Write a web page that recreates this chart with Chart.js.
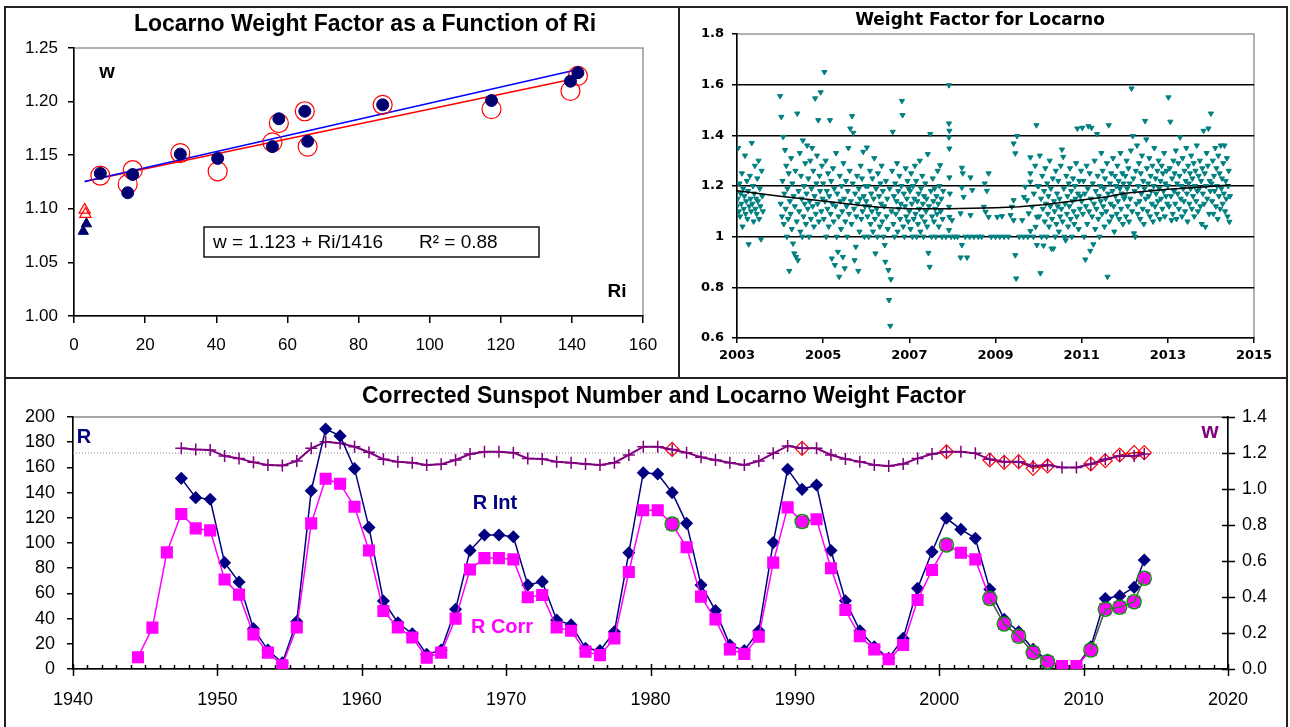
<!DOCTYPE html>
<html>
<head>
<meta charset="utf-8">
<script src="https://cdn.jsdelivr.net/npm/chart.js"></script>
<style>
  html, body { margin: 0; padding: 0; background: #fff; overflow: hidden; }
  body { width: 1290px; height: 727px; position: relative; }
  .frame { position: absolute; left: 4px; top: 6px; width: 1280px; height: 740px; border: 2px solid #222; }
  .vline { position: absolute; left: 678px; top: 7px; width: 2px; height: 371px; background: #222; }
  .hline { position: absolute; left: 5px; top: 377px; width: 1282px; height: 2px; background: #222; }
  canvas { position: absolute; }
</style>
</head>
<body>
<div class="frame"></div>
<div class="vline"></div>
<div class="hline"></div>
<canvas id="riChart" width="671" height="368" style="left:7px;top:9px;width:671px;height:368px"></canvas>
<canvas id="dailyChart" width="605" height="368" style="left:681px;top:9px;width:605px;height:368px"></canvas>
<canvas id="sunChart" width="1279" height="347" style="left:7px;top:380px;width:1279px;height:347px"></canvas>
<script>
// ---- panel 1: weight factor vs Ri ----
const riVals = [7.4, 15.1, 16.5, 29.9, 40.4, 55.8, 57.6, 64.9, 65.7, 86.8, 117.4, 139.6, 141.7];
const wIntVals = [1.133, 1.115, 1.132, 1.151, 1.147, 1.158, 1.184, 1.191, 1.163, 1.197, 1.201, 1.219, 1.227];
const wCorrVals = [1.131, 1.123, 1.136, 1.152, 1.135, 1.162, 1.180, 1.191, 1.158, 1.197, 1.193, 1.210, 1.224];
const lowRiInt = [2.6, 3.5];
const lowWInt = [1.079, 1.086];
const lowRiCorr = [3.0, 3.2];
const lowWCorr = [1.099, 1.095];
const fitRi = [3.0, 141.7];
const fitBlue = [1.1255, 1.230];
const fitRed = [1.1255, 1.222];

// ---- panel 2: daily weight factor (samples per year, 70 per year) ----
const wfPerYear = 70;
const wf2003 = [1.12,1.15,1.35,1.10,1.21,1.08,1.17,1.13,1.25,1.04,1.19,1.11,1.16,1.32,1.09,1.14,1.22,1.07,1.18,0.97,
  1.12,1.24,1.15,1.10,1.37,1.13,1.20,1.06,1.17,1.28,1.11,1.15,1.09,1.23,1.14,1.30,1.07,1.19,1.12,0.99,1.26,1.16,1.10];
const wf2004 = [1.555,1.13,1.473,1.08,1.22,1.394,1.05,1.17,1.342,1.11,1.28,1.00,1.19,1.07,1.25,0.865,1.14,1.09,1.31,1.03,
  1.21,0.973,1.16,0.934,1.12,1.26,0.92,1.06,1.486,0.907,1.18,1.10,1.33,1.02,1.24,1.15,1.00,1.38,1.08,1.20,
  1.13,1.29,1.05,1.17,1.36,1.11,1.23,1.00,1.14,1.30,1.07,1.19,1.35,1.12,1.26,1.04,1.16,1.546,1.09,1.21,
  1.32,1.13,1.46,1.06,1.24,1.18,1.57,1.10,1.28,1.15];
const wf2005 = [1.21,1.07,1.65,1.14,1.30,1.00,1.18,1.11,1.25,1.04,1.16,1.46,1.09,1.22,0.914,1.13,1.27,1.06,1.19,0.888,
  1.12,1.33,1.00,1.17,0.94,1.08,0.842,1.24,1.14,1.03,1.20,1.10,0.92,1.29,1.15,0.875,1.06,1.22,1.12,1.00,
  1.18,1.35,1.09,1.26,1.427,1.14,1.05,1.476,1.21,1.41,1.11,0.907,1.17,0.96,1.08,1.24,1.13,0.865,1.19,1.02,
  1.15,1.28,1.07,1.23,1.10,1.335,1.16,1.00,1.12,1.20];
const wf2006 = [1.14,1.352,1.08,1.20,1.00,1.12,1.26,1.05,1.17,1.10,1.23,1.02,1.15,1.31,1.07,0.934,1.19,1.11,1.00,1.25,
  1.09,1.16,1.04,1.21,1.13,1.28,1.06,1.18,1.00,1.12,0.967,0.901,1.22,1.08,1.15,1.03,0.868,0.75,1.19,0.648,
  0.832,1.10,1.26,1.414,1.05,1.16,1.00,1.21,1.09,1.14,1.29,1.02,1.18,1.11,1.24,1.07,1.13,1.20,1.536,1.48,
  1.04,1.17,1.00,1.12,1.27,1.08,1.15,1.22,1.06,1.19];
const wf2007 = [1.10,1.18,1.03,1.25,1.13,1.00,1.20,1.07,1.15,1.28,1.09,1.22,1.00,1.14,1.05,1.17,1.11,1.30,1.02,1.19,
  1.08,1.24,1.13,1.00,1.16,1.06,1.21,1.10,1.15,1.04,1.326,0.936,1.12,0.881,1.405,1.18,1.00,1.08,1.23,1.14,
  1.06,1.19,1.11,1.00,1.16,1.09,1.26,1.13,1.04,1.20,1.282,1.10,1.15,1.00,1.07,1.18];
const wf2010 = [1.20,1.08,1.32,0.856,1.15,1.00,1.24,1.11,0.965,1.18,1.06,1.27,1.13,1.00,1.21,1.09,1.16,1.04,1.30,1.12,
  1.19,0.953,1.07,1.23,0.953,1.14,1.10,1.00,1.26,1.05,1.17,1.12,1.22,1.02,1.15,1.08,1.28,1.11,1.344,1.06,
  1.315,1.19,1.00,1.13,0.986,1.24,1.09,1.16,1.04,1.21,1.12,1.27,1.07,1.18,1.00,1.14,1.23,1.10,1.05,1.20,
  1.15,1.29,1.08,1.427,1.17,1.03,1.22,1.11,1.16,1.26];
const wf2011 = [1.14,1.43,1.09,1.22,1.00,1.17,0.91,1.12,1.28,1.05,1.19,1.436,1.10,1.25,0.944,1.15,1.43,1.08,1.21,0.97,
  1.13,1.30,1.03,1.18,1.11,1.405,1.24,1.07,1.16,1.00,1.20,1.14,1.33,1.09,1.26,1.12,1.19,1.04,1.23,1.15,
  1.10,1.29,0.842,1.17,1.44,1.06,1.21,1.13,1.25,1.08,1.18,1.31,1.12,1.02,1.24,1.16,1.20,1.09,1.28,1.14,
  1.22,1.07,1.19,1.33,1.11,1.17,1.25,1.05,1.21,1.15];
const wf2012 = [1.16,1.24,1.08,1.30,1.19,1.12,1.27,1.06,1.21,1.15,1.34,1.585,1.10,1.397,1.23,1.013,1.18,1.00,1.26,1.13,
  1.36,1.09,1.20,1.29,1.14,1.07,1.25,1.17,1.32,1.11,1.22,1.05,1.19,1.457,1.15,1.384,1.27,1.10,1.21,1.16,
  1.31,1.08,1.24,1.18,1.13,1.28,1.06,1.20,1.35,1.12,1.23,1.17,1.09,1.26,1.14,1.30,1.19,1.07,1.22,1.15,
  1.28,1.11,1.25,1.18,1.33,1.08,1.21,1.16,1.26,1.13];
const wf2013 = [1.20,1.55,1.12,1.27,1.454,1.16,1.065,1.23,1.09,1.30,1.18,1.25,1.13,1.34,1.07,1.21,1.17,1.29,1.11,1.24,
  1.392,1.15,1.20,1.08,1.31,1.19,1.14,1.26,1.10,1.22,1.35,1.17,1.06,1.28,1.21,1.13,1.25,1.19,1.32,1.11,
  1.23,1.16,1.29,1.08,1.20,1.26,1.14,1.36,1.18,1.10,1.24,1.19,1.30,1.12,1.22,1.05,1.27,1.17,1.418,1.13,
  1.25,1.039,1.20,1.33,1.15,1.28,1.427,1.09,1.22,1.18];
const wf2014 = [1.486,1.21,1.14,1.30,1.09,1.24,1.18,1.35,1.12,1.27,1.20,1.07,1.32,1.16,1.25,1.11,1.36,1.19,1.23,1.13,
  1.29,1.17,1.36,1.10,1.22,1.15,1.31,1.08,1.20,1.26,1.059,1.16];
const wfYears = [2003, 2004, 2005, 2006, 2007, 2010, 2011, 2012, 2013, 2014];
const wfByYear = [wf2003, wf2004, wf2005, wf2006, wf2007, wf2010, wf2011, wf2012, wf2013, wf2014];
// sparse observations 2007.8 - 2010
const wfSparse = [[2007.92,1.598],[2007.92,1.447],[2007.93,1.418],[2007.92,1.392],[2007.93,1.348],[2007.93,1.234],
  [2007.94,1.170],[2007.92,1.118],[2007.93,1.078],[2007.99,1.065],[2007.92,1.026],[2008.22,1.272],[2008.24,1.250],
  [2008.22,1.194],[2008.26,1.157],[2008.19,1.092],[2008.22,0.967],[2008.19,0.918],[2008.34,0.918],[2008.42,1.234],
  [2008.46,1.184],[2008.42,1.085],[2008.75,1.210],[2008.84,1.250],[2008.80,1.181],[2008.73,1.118],[2008.84,1.078],
  [2008.77,1.098],[2009.04,1.078],[2009.15,1.081],[2009.35,1.085],[2009.42,1.065],[2009.42,1.368],[2009.50,1.397],
  [2009.46,1.329],[2009.48,0.835],[2009.46,0.927],[2009.42,1.144],[2009.38,1.118],[2009.81,1.313],[2009.95,1.440],
  [2009.81,1.250],[2009.81,1.217],[2009.69,1.197],[2009.73,1.144],[2009.77,1.092],[2009.85,1.118],[2009.89,1.170],
  [2009.96,1.078],[2009.96,0.967],[2009.81,1.022],[2009.93,1.039],[2009.62,1.065],[2009.66,1.157],[2009.92,1.280],
  [2009.98,1.200],[2007.85,1],[2007.97,1],[2008.05,1],[2008.12,1],[2008.30,1],[2008.40,1],[2008.50,1],[2008.60,1],
  [2008.68,1],[2008.90,1],[2009.00,1],[2009.10,1],[2009.20,1],[2009.30,1],[2009.55,1],[2009.65,1],[2009.75,1],[2009.88,1]];
const trendYear = [2003.0, 2004.0, 2005.0, 2005.8, 2006.3, 2007.0, 2007.9, 2009.0, 2009.55, 2010.1, 2011.0, 2011.6, 2012.0, 2013.0, 2013.9, 2014.45];
const trendW = [1.181, 1.160, 1.141, 1.125, 1.116, 1.110, 1.110, 1.114, 1.118, 1.126, 1.145, 1.158, 1.171, 1.187, 1.197, 1.204];

// ---- panel 3: sunspot numbers and weight factor ----
const sunYears = [1944.5,1945.5,1946.5,1947.5,1948.5,1949.5,1950.5,1951.5,1952.5,1953.5,1954.5,1955.5,1956.5,1957.5,
  1958.5,1959.5,1960.5,1961.5,1962.5,1963.5,1964.5,1965.5,1966.5,1967.5,1968.5,1969.5,1970.5,1971.5,1972.5,1973.5,
  1974.5,1975.5,1976.5,1977.5,1978.5,1979.5,1980.5,1981.5,1982.5,1983.5,1984.5,1985.5,1986.5,1987.5,1988.5,1989.5,
  1990.5,1991.5,1992.5,1993.5,1994.5,1995.5,1996.5,1997.5,1998.5,1999.5,2000.5,2001.5,2002.5,2003.5,2004.5,2005.5,
  2006.5,2007.5,2008.5,2009.5,2010.5,2011.5,2012.5,2013.5,2014.2];
const rCorr = [9.3,32.8,92.6,123,111.6,110,71,59,27.5,13,3,33,115.6,151,147,128.8,94,46,33,25,9,13,40,79,88,88,
  87,57,58.7,33,30.4,13.8,11,24.3,77,126,126,115,96.6,57.4,39.4,15.6,12,25.7,84.4,128.3,117,118.8,80,46.8,26,15.6,
  7.7,19,54.8,78.6,98.4,92.3,87,56,35.7,26,13,5.8,2.4,2.4,15,47.4,49,53.4,72];
const rInt = [null,null,null,151.3,136,134.7,84.4,69,32,15,5,37.6,141.5,190.5,185,159,112.4,54,36.7,28,11.6,15,47.4,
  94,106.3,106.3,105,66.7,69.3,38.9,35,16.4,14.6,29.6,92.3,155.8,154.8,140,115.6,66.7,46.3,19,14.6,30.4,100.3,158.5,
  142.6,146,94,54.2,30.4,17.7,8.5,24.3,64,93,119.6,110.8,103.7,63.2,39.4,29.6,15.6,7.1,2,2,17.7,56,58,64.8,86.5];
const wFactor = [null,null,null,1.226,1.220,1.217,1.183,1.170,1.148,1.133,1.130,1.155,1.226,1.263,1.254,1.235,1.204,
  1.165,1.152,1.146,1.133,1.138,1.161,1.194,1.207,1.207,1.202,1.170,1.167,1.152,1.146,1.139,1.133,1.146,1.189,1.235,
  1.235,1.220,1.202,1.176,1.161,1.146,1.133,1.155,1.198,1.239,1.226,1.226,1.189,1.167,1.152,1.133,1.128,1.139,1.170,
  1.194,1.207,1.207,1.198,1.165,1.152,1.152,1.128,1.133,1.120,1.120,1.139,1.165,1.183,1.183,1.194];
const locYears = [1981.5, 1990.5, 2000.5, 2003.5, 2004.5, 2005.5, 2006.5, 2007.5, 2010.5, 2011.5, 2012.5, 2013.5, 2014.2];
const locW = [1.220, 1.226, 1.207, 1.161, 1.148, 1.152, 1.115, 1.128, 1.139, 1.157, 1.189, 1.202, 1.202];
const locR = [115, 117, 98.4, 56, 35.7, 26, 13, 5.8, 15, 47.4, 49, 53.4, 72];
const refW = 1.2;

Chart.defaults.font.family = '"Liberation Sans", Arial, sans-serif';
Chart.defaults.color = '#000';
Chart.defaults.animation = false;
Chart.defaults.responsive = false;
Chart.defaults.devicePixelRatio = 1;
Chart.defaults.plugins.legend.display = false;
Chart.defaults.plugins.tooltip.enabled = false;

const pts = (xs, ys) => xs.map((x, i) => ({ x: x, y: ys[i] })).filter(p => p.y !== null);

// grey box round the plot area, axes are drawn over it
const plotFrame = {
  id: 'plotFrame',
  beforeDraw(chart, args, opts) {
    const a = chart.chartArea, ctx = chart.ctx;
    ctx.save();
    ctx.strokeStyle = opts.color || '#999';
    ctx.lineWidth = 1.5;
    ctx.strokeRect(a.left, a.top, a.right - a.left, a.bottom - a.top);
    ctx.restore();
  }
};

// titles and labels
const panelText = {
  id: 'panelText',
  afterDraw(chart, args, opts) {
    const ctx = chart.ctx;
    if (opts.box) {
      const b = opts.box;
      ctx.save();
      ctx.fillStyle = '#fff';
      ctx.strokeStyle = '#111';
      ctx.lineWidth = 1.5;
      ctx.fillRect(b.x, b.y, b.w, b.h);
      ctx.strokeRect(b.x, b.y, b.w, b.h);
      ctx.restore();
    }
    (opts.items || []).forEach(t => {
      ctx.save();
      ctx.font = t.font;
      ctx.fillStyle = t.color || '#000';
      ctx.textAlign = t.align || 'center';
      ctx.textBaseline = 'middle';
      ctx.fillText(t.text, t.x, t.y);
      ctx.restore();
    });
  }
};

// yearly minor ticks and crossing ticks on the sunspot chart
const yearTicks = {
  id: 'yearTicks',
  afterDraw(chart) {
    const ctx = chart.ctx, xs = chart.scales.x, y2 = chart.scales.y2;
    const base = chart.chartArea.bottom, right = chart.chartArea.right;
    ctx.save();
    ctx.strokeStyle = '#000';
    ctx.lineWidth = 1.5;
    ctx.beginPath();
    for (let yr = xs.min; yr <= xs.max; yr++) {
      const px = Math.round(xs.getPixelForValue(yr)) + 0.5;
      if (yr % 10 === 0) { ctx.moveTo(px, base - 5); ctx.lineTo(px, base + 7); }
      else { ctx.moveTo(px, base - 4); ctx.lineTo(px, base); }
    }
    y2.ticks.forEach(t => {
      const py = Math.round(y2.getPixelForValue(t.value)) + 0.5;
      ctx.moveTo(right - 6, py); ctx.lineTo(right + 7, py);
    });
    ctx.stroke();
    ctx.restore();
  }
};

const titleFont = 'bold 23px "Liberation Sans", Arial, sans-serif';

// ---------- chart 1 ----------
new Chart(document.getElementById('riChart'), {
  type: 'scatter',
  data: {
    datasets: [
      { data: pts(riVals, wIntVals), pointRadius: 6, pointBackgroundColor: '#000070', pointBorderColor: '#000070' },
      { data: pts(riVals, wCorrVals), pointRadius: 9.5, pointBackgroundColor: 'rgba(0,0,0,0)', pointBorderColor: '#ff0000', pointBorderWidth: 1.2 },
      { data: pts(lowRiInt, lowWInt), pointStyle: 'triangle', pointRadius: 6, pointBackgroundColor: '#000070', pointBorderColor: '#000070' },
      { data: pts(lowRiCorr, lowWCorr), pointStyle: 'triangle', pointRadius: 6.5, pointBackgroundColor: 'rgba(0,0,0,0)', pointBorderColor: '#ff0000', pointBorderWidth: 1.2 },
      { data: pts(fitRi, fitBlue), showLine: true, pointRadius: 0, borderColor: '#0000ff', borderWidth: 1.5 },
      { data: pts(fitRi, fitRed), showLine: true, pointRadius: 0, borderColor: '#ff0000', borderWidth: 1.5 }
    ]
  },
  options: {
    layout: { padding: { top: 39, right: 35, left: 0, bottom: 0 } },
    scales: {
      x: {
        type: 'linear', min: 0, max: 160,
        afterFit: s => { s.height = 61; },
        grid: { drawOnChartArea: false, tickLength: 7, color: '#000', lineWidth: 1.5 },
        border: { color: '#000', width: 1.5 },
        ticks: { stepSize: 20, padding: 12, font: { size: 17 }, maxRotation: 0, callback: v => String(v) }
      },
      y: {
        min: 1.0, max: 1.25,
        afterFit: s => { s.width = 67; },
        grid: { drawOnChartArea: false, tickLength: 6, color: '#000', lineWidth: 1.5 },
        border: { color: '#000', width: 1.5 },
        ticks: { stepSize: 0.05, padding: 10, font: { size: 17 }, callback: v => v.toFixed(2) }
      }
    },
    plugins: {
      plotFrame: { color: '#999' },
      panelText: {
        box: { x: 197, y: 218, w: 335, h: 30 },
        items: [
          { text: 'Locarno Weight Factor as a Function of Ri', x: 358, y: 16, font: titleFont },
          { text: 'w', x: 100, y: 63, font: 'bold 20px "Liberation Sans", Arial, sans-serif' },
          { text: 'Ri', x: 610, y: 283, font: 'bold 19px "Liberation Sans", Arial, sans-serif' },
          { text: 'w = 1.123 + Ri/1416', x: 206, y: 234, align: 'left', font: '19px "Liberation Sans", Arial, sans-serif' },
          { text: 'R\u00B2 = 0.88', x: 412, y: 234, align: 'left', font: '19px "Liberation Sans", Arial, sans-serif' }
        ]
      }
    }
  },
  plugins: [plotFrame, panelText]
});

// ---------- chart 2 ----------
const dailyPts = wfYears.map((yr, k) => wfByYear[k].map((w, i) => ({ x: yr + i / wfPerYear, y: w }))).flat()
  .concat(wfSparse.map(p => ({ x: p[0], y: p[1] })));

new Chart(document.getElementById('dailyChart'), {
  type: 'scatter',
  data: {
    datasets: [
      { data: pts(trendYear, trendW), showLine: true, pointRadius: 0, borderColor: '#000', borderWidth: 1.5 },
      { data: dailyPts, pointStyle: 'triangle', pointRotation: 180, pointRadius: 3, pointBorderWidth: 1,
        pointBorderColor: '#008080', pointBackgroundColor: '#008080' }
    ]
  },
  options: {
    layout: { padding: { top: 25, right: 32, left: 0, bottom: 0 } },
    scales: {
      x: {
        type: 'linear', min: 2003, max: 2015,
        afterFit: s => { s.height = 39; },
        grid: { drawOnChartArea: false, tickLength: 5, color: '#000', lineWidth: 1.5 },
        border: { color: '#000', width: 1.5 },
        ticks: { stepSize: 2, padding: 5, maxRotation: 0, font: { size: 13, weight: 'bold', family: '"DejaVu Sans", sans-serif' }, callback: v => String(v) }
      },
      y: {
        min: 0.6, max: 1.8,
        afterFit: s => { s.width = 56; },
        grid: {
          tickLength: 5, tickColor: '#000', lineWidth: 1.5,
          color: c => (c.tick && c.tick.value > 0.61 && c.tick.value < 1.79) ? '#000' : 'rgba(0,0,0,0)'
        },
        border: { color: '#000', width: 1.5 },
        ticks: { stepSize: 0.2, padding: 8, font: { size: 13, weight: 'bold', family: '"DejaVu Sans", sans-serif' }, callback: v => String(Math.round(v * 10) / 10) }
      }
    },
    plugins: {
      plotFrame: { color: '#999' },
      panelText: {
        items: [
          { text: 'Weight Factor for Locarno', x: 299, y: 12, font: 'bold 17px "DejaVu Sans", sans-serif' }
        ]
      }
    }
  },
  plugins: [plotFrame, panelText]
});

// ---------- chart 3 ----------
const gapColor = col => c => (c.p1.parsed.x - c.p0.parsed.x > 1.5 ? 'rgba(0,0,0,0)' : col);

new Chart(document.getElementById('sunChart'), {
  type: 'line',
  data: {
    datasets: [
      { data: pts(locYears, locR), yAxisID: 'y', borderColor: '#109010', borderWidth: 1.2, pointRadius: 7,
        pointBorderColor: '#109010', pointBackgroundColor: 'rgba(0,0,0,0)', pointBorderWidth: 1.5,
        segment: { borderColor: gapColor('#109010') } },
      { data: pts(sunYears, rCorr), yAxisID: 'y', borderColor: '#ff00ff', borderWidth: 1.5, pointStyle: 'rect',
        pointRadius: 7.5, pointBorderColor: '#ff00ff', pointBackgroundColor: '#ff00ff' },
      { data: pts(sunYears, rInt), yAxisID: 'y', borderColor: '#000080', borderWidth: 1.5, pointStyle: 'rectRot',
        pointRadius: 5.5, pointBorderColor: '#000080', pointBackgroundColor: '#000080' },
      { data: pts(sunYears, wFactor), yAxisID: 'y2', borderColor: '#800080', borderWidth: 2, pointStyle: 'cross',
        pointRadius: 6, pointBorderColor: '#800080', pointBorderWidth: 1.5 },
      { data: pts(locYears, locW), yAxisID: 'y2', borderColor: '#c00000', borderWidth: 1.2, pointStyle: 'rectRot',
        pointRadius: 7, pointBorderColor: '#ff0000', pointBackgroundColor: 'rgba(0,0,0,0)', pointBorderWidth: 1.2,
        segment: { borderColor: gapColor('#c00000') } },
      { data: pts([1940, 2020], [refW, refW]), yAxisID: 'y2', borderColor: '#888', borderWidth: 1, borderDash: [1, 2], pointRadius: 0 }
    ]
  },
  options: {
    layout: { padding: { top: 37, right: 0, left: 0, bottom: 0 } },
    scales: {
      x: {
        type: 'linear', min: 1940, max: 2020,
        afterFit: s => { s.height = 58; },
        grid: { display: false, drawTicks: false },
        border: { display: true, color: '#000', width: 1.5 },
        ticks: { stepSize: 10, padding: 20, maxRotation: 0, font: { size: 18 }, callback: v => String(v) }
      },
      y: {
        position: 'left', min: 0, max: 200,
        afterFit: s => { s.width = 66; },
        grid: { drawOnChartArea: false, tickLength: 6, color: '#000', lineWidth: 1.5 },
        border: { color: '#000', width: 1.5 },
        ticks: { stepSize: 20, padding: 12, font: { size: 18 } }
      },
      y2: {
        position: 'right', min: 0, max: 1.4,
        afterFit: s => { s.width = 58; },
        grid: { display: false, drawTicks: false },
        border: { display: true, color: '#000', width: 1.5 },
        ticks: { stepSize: 0.2, padding: 14, font: { size: 18 }, callback: v => v.toFixed(1) }
      }
    },
    plugins: {
      plotFrame: { color: '#888' },
      panelText: {
        items: [
          { text: 'Corrected Sunspot Number and Locarno Weight Factor', x: 657, y: 17, font: titleFont },
          { text: 'R', x: 77, y: 57, color: '#000080', font: 'bold 20px "Liberation Sans", Arial, sans-serif' },
          { text: 'w', x: 1203, y: 52, color: '#800080', font: 'bold 22px "Liberation Sans", Arial, sans-serif' },
          { text: 'R Int', x: 488, y: 123, color: '#000080', font: 'bold 20px "Liberation Sans", Arial, sans-serif' },
          { text: 'R Corr', x: 495, y: 247, color: '#ff00ff', font: 'bold 20px "Liberation Sans", Arial, sans-serif' }
        ]
      }
    }
  },
  plugins: [plotFrame, yearTicks, panelText]
});
</script>
</body>
</html>
